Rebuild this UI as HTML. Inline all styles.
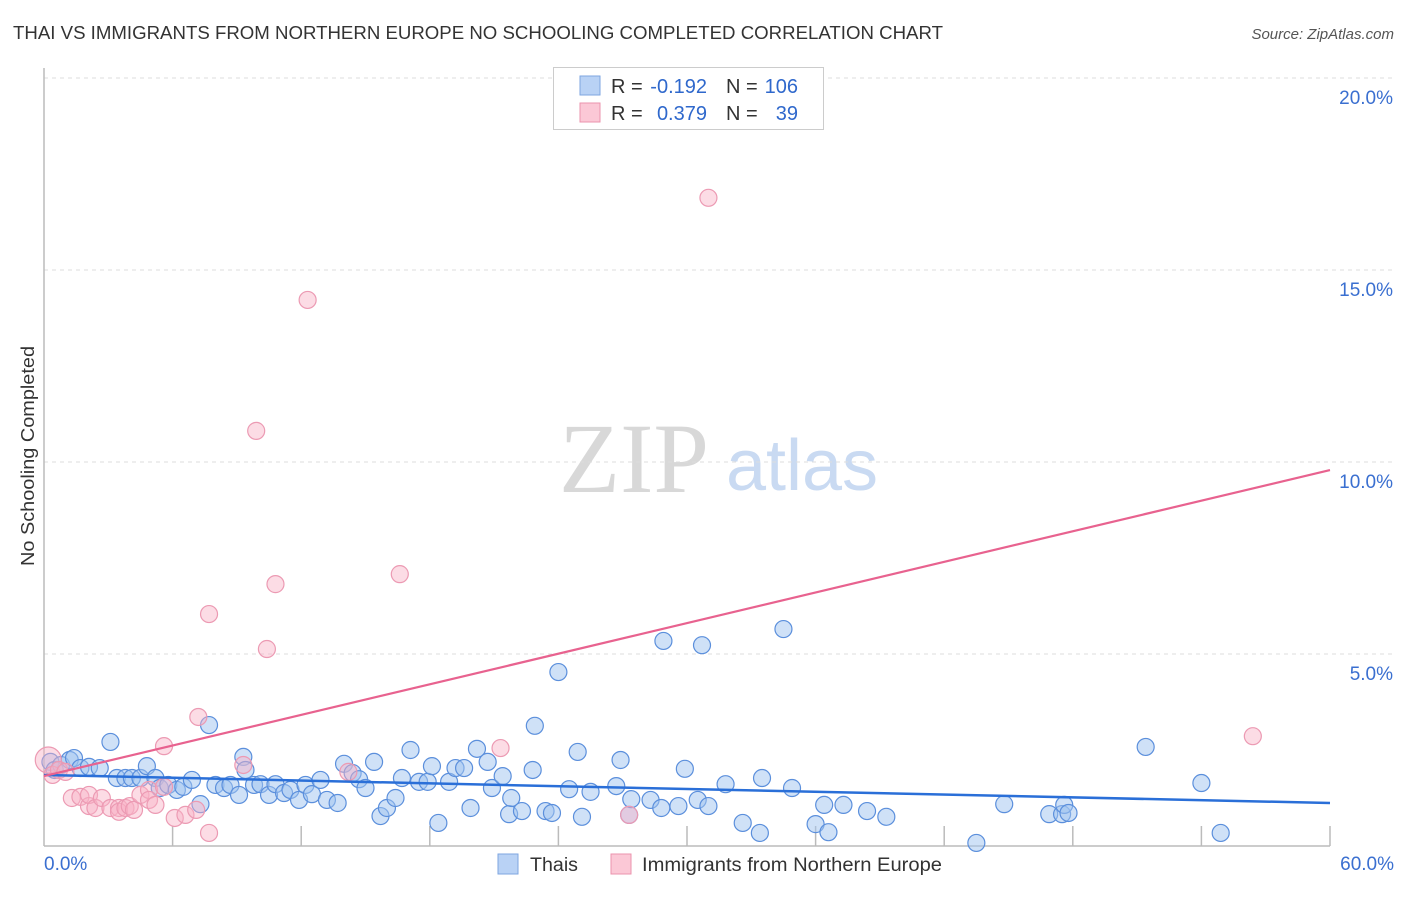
<!DOCTYPE html>
<html><head><meta charset="utf-8">
<style>
body{margin:0;background:#fff;width:1406px;height:892px;overflow:hidden;font-family:"Liberation Sans",sans-serif;}
text{font-family:"Liberation Sans",sans-serif;}
text.serif{font-family:"Liberation Serif",serif;}
</style></head>
<body>
<svg id="chart" width="1406" height="892" xmlns="http://www.w3.org/2000/svg">
<text x="13" y="39" font-size="18" fill="#333" textLength="930" lengthAdjust="spacingAndGlyphs">THAI VS IMMIGRANTS FROM NORTHERN EUROPE NO SCHOOLING COMPLETED CORRELATION CHART</text>
<text x="1394" y="39" font-size="15" fill="#555" font-style="italic" text-anchor="end">Source: ZipAtlas.com</text>
<text transform="translate(34,456) rotate(-90)" font-size="18" fill="#333" text-anchor="middle" textLength="220" lengthAdjust="spacingAndGlyphs">No Schooling Completed</text>
<g>
<text class="serif" x="634" y="492" font-size="100" fill="#d8d8d8" text-anchor="middle">ZIP</text>
<text x="802" y="490" font-size="72" fill="#c9daf2" text-anchor="middle">atlas</text>
</g>
<g id="grid"></g>
<g id="axes"></g>
<g id="pts"></g>
<g id="trend"></g>
<g>
<rect x="553.5" y="67.5" width="270" height="62" fill="#fff" stroke="#ccc"/>
<rect x="580" y="76" width="20" height="19" fill="#b9d2f5" stroke="#7ea6e0"/>
<rect x="580" y="103" width="20" height="19" fill="#fbc8d6" stroke="#eb93ad"/>
<text x="611" y="93" font-size="20" fill="#333">R =</text>
<text x="707" y="93" font-size="20" fill="#2f68cc" text-anchor="end">-0.192</text>
<text x="726" y="93" font-size="20" fill="#333">N =</text>
<text x="798" y="93" font-size="20" fill="#2f68cc" text-anchor="end">106</text>
<text x="611" y="120" font-size="20" fill="#333">R =</text>
<text x="707" y="120" font-size="20" fill="#2f68cc" text-anchor="end">0.379</text>
<text x="726" y="120" font-size="20" fill="#333">N =</text>
<text x="798" y="120" font-size="20" fill="#2f68cc" text-anchor="end">39</text>
</g>
<g>
<rect x="498" y="854" width="20" height="20" fill="#b9d2f5" stroke="#7ea6e0"/>
<text x="530" y="871" font-size="19" fill="#333" textLength="48" lengthAdjust="spacingAndGlyphs">Thais</text>
<rect x="611" y="854" width="20" height="20" fill="#fbc8d6" stroke="#eb93ad"/>
<text x="642" y="871" font-size="19" fill="#333" textLength="300" lengthAdjust="spacingAndGlyphs">Immigrants from Northern Europe</text>
</g>
</svg>
<script>
const yTicks=[5,10,15,20];
const yTickLabels=["5.0%","10.0%","15.0%","20.0%"];
const xTickLabels=["0.0%","60.0%"];
const blueX=[0.3,0.5,0.8,1.2,1.4,1.7,2.1,2.6,3.1,3.4,3.8,4.1,4.5,4.8,5.2,5.4,5.8,6.2,6.5,6.9,7.3,7.7,8.0,8.4,8.7,9.1,9.3,9.4,9.8,10.1,10.5,10.8,11.2,11.5,11.9,12.2,12.5,12.9,13.2,13.7,14.0,14.4,14.7,15.0,15.4,15.7,16.0,16.4,16.7,17.1,17.5,17.9,18.1,18.4,18.9,19.2,19.6,19.9,20.2,20.7,20.9,21.4,21.7,21.8,22.3,22.8,22.9,23.4,23.7,24.0,24.5,24.9,25.1,25.5,26.9,26.7,27.3,27.4,28.3,28.9,28.8,29.6,29.9,30.5,30.7,31.0,31.8,32.6,33.4,33.5,34.5,34.9,36.0,36.4,36.6,37.3,38.4,39.3,43.5,44.8,46.9,47.5,47.6,47.8,51.4,54.0,54.9];
const blueY=[2.19,1.98,2.11,2.24,2.29,2.03,2.06,2.03,2.71,1.77,1.77,1.77,1.77,2.08,1.77,1.51,1.59,1.46,1.54,1.72,1.09,3.15,1.59,1.51,1.59,1.33,2.32,1.98,1.59,1.61,1.33,1.61,1.38,1.46,1.20,1.59,1.35,1.72,1.20,1.12,2.14,1.90,1.74,1.51,2.19,0.78,0.99,1.25,1.77,2.50,1.67,1.67,2.08,0.60,1.67,2.03,2.03,0.99,2.53,2.19,1.51,1.82,0.83,1.25,0.91,1.98,3.13,0.91,0.86,4.53,1.48,2.45,0.76,1.41,2.24,1.56,0.81,1.22,1.20,5.34,0.99,1.04,2.01,1.20,5.23,1.04,1.61,0.60,0.34,1.77,5.65,1.51,0.57,1.07,0.36,1.07,0.91,0.76,0.08,1.09,0.83,0.83,1.07,0.86,2.58,1.64,0.34];
const pinkX=[0.2,0.4,0.7,1.0,1.3,1.7,2.1,2.1,2.4,2.7,3.1,3.5,3.5,3.8,4.0,4.2,4.5,4.9,4.9,5.2,5.6,5.6,6.1,6.6,7.1,7.2,7.7,7.7,9.3,9.9,10.4,10.8,12.3,14.2,16.6,21.3,27.3,31.0,56.4];
const pinkY=[2.24,1.85,1.98,1.93,1.25,1.28,1.04,1.33,0.99,1.25,0.99,0.99,0.89,0.99,1.04,0.94,1.33,1.46,1.20,1.07,2.60,1.54,0.73,0.81,0.94,3.36,6.04,0.34,2.11,10.81,5.13,6.82,14.22,1.93,7.08,2.55,0.81,16.88,2.86];
const blueTrend=[1.85,1.12];
const pinkTrend=[1.82,9.79];

const NS="http://www.w3.org/2000/svg";
const X0=44,X1=1330,Y0=846,Y20=78;
const sx=v=>X0+(X1-X0)*v/60;
const sy=v=>Y0-(Y0-Y20)*v/20;
function mk(tag,attrs,parent){const e=document.createElementNS(NS,tag);for(const k in attrs)e.setAttribute(k,attrs[k]);parent.appendChild(e);return e;}
const grid=document.getElementById('grid'),axes=document.getElementById('axes');
yTicks.forEach((t,i)=>{
  const l=mk('line',{x1:X0,x2:1394,y1:sy(t),y2:sy(t),stroke:'#ddd','stroke-dasharray':'4,4'},grid);
  
  
  const tx=mk('text',{x:1393,y:sy(t)+26,'font-size':19,fill:'#3a6fd0','text-anchor':'end'},axes);
  tx.textContent=yTickLabels[i];
  
  
});
const ya=mk('line',{x1:X0,x2:X0,y1:68,y2:Y0,stroke:'#bbb','stroke-width':1.5},axes);


const xa=mk('line',{x1:X0,x2:X1,y1:Y0,y2:Y0,stroke:'#bbb','stroke-width':1.5},axes);


for(let v=6;v<=60;v+=6){
  const tk=mk('line',{x1:sx(v),x2:sx(v),y1:Y0-20,y2:Y0,stroke:'#bbb','stroke-width':1.5},axes);
  
  
}
[[0,'start',44],[60,'end',1394]].forEach((d,i)=>{
  const tx=mk('text',{x:d[2],y:870,'font-size':19,fill:'#3a6fd0','text-anchor':d[1]},axes);
  tx.textContent=xTickLabels[i];
  
  
});
const pts=document.getElementById('pts');
blueX.forEach((x,i)=>{
  const c=mk('circle',{cx:sx(x),cy:sy(blueY[i]),r:8.5,fill:'rgba(160,196,240,0.5)',stroke:'#5b8fdc','stroke-width':1.2},pts);
  
  
});
pinkX.forEach((x,i)=>{
  const c=mk('circle',{cx:sx(x),cy:sy(pinkY[i]),r:i===0?13:8.5,fill:'rgba(248,178,198,0.45)',stroke:'#ec9ab3','stroke-width':1.2},pts);
  
  
});
const tr=document.getElementById('trend');
const bl=mk('line',{x1:sx(0),y1:sy(blueTrend[0]),x2:sx(60),y2:sy(blueTrend[1]),stroke:'#2a6fd8','stroke-width':2.5},tr);


const pl=mk('line',{x1:sx(0),y1:sy(pinkTrend[0]),x2:sx(60),y2:sy(pinkTrend[1]),stroke:'#e8628f','stroke-width':2.2},tr);


</script>
</body></html>
